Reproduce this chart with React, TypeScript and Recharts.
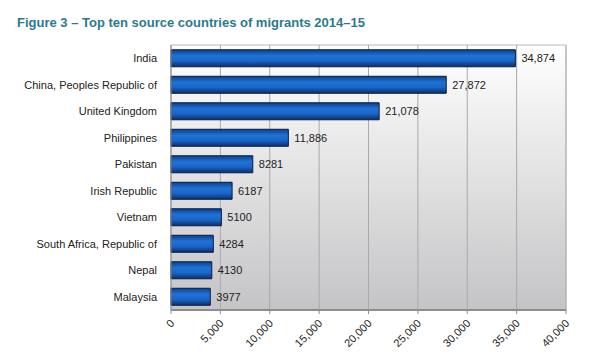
import React from 'react';
import {
  BarChart,
  Bar,
  XAxis,
  YAxis,
  CartesianGrid,
  LabelList,
  ReferenceArea,
} from 'recharts';

const countries = [
  'India',
  'China, Peoples Republic of',
  'United Kingdom',
  'Philippines',
  'Pakistan',
  'Irish Republic',
  'Vietnam',
  'South Africa, Republic of',
  'Nepal',
  'Malaysia',
];
const migrants = [34874, 27872, 21078, 11886, 8281, 6187, 5100, 4284, 4130, 3977];
const valueLabels = ['34,874', '27,872', '21,078', '11,886', '8281', '6187', '5100', '4284', '4130', '3977'];
const xTicks = [0, 5000, 10000, 15000, 20000, 25000, 30000, 35000, 40000];

const FONT = '"Liberation Sans", Arial, sans-serif';

const data = countries.map((name, i) => ({
  name,
  value: migrants[i],
  label: valueLabels[i],
}));

// rotated x tick, text ends at the tick
function SlantTick(props: any) {
  const { x, y, payload } = props;
  const text = payload.value === 0 ? '0' : payload.value.toLocaleString('en-US');
  return (
    <g transform={`translate(${x + 4},${y + 8})`}>
      <text
        transform="rotate(-45)"
        textAnchor="end"
        fontSize={11}
        fill="#222"
        fontFamily={FONT}
      >
        {text}
      </text>
    </g>
  );
}

// category label on one line (no wrapping)
function CountryTick(props: any) {
  const { x, y, payload } = props;
  return (
    <text
      x={x - 6}
      y={y}
      dy={4}
      textAnchor="end"
      fontSize={11}
      fill="#222"
      fontFamily={FONT}
    >
      {payload.value}
    </text>
  );
}

export default function App() {
  return (
    <div
      style={{
        position: 'absolute',
        left: 0,
        top: 0,
        width: 600,
        height: 360,
        background: '#fff',
        fontFamily: FONT,
      }}
    >
      <div
        style={{
          position: 'absolute',
          left: 17,
          top: 15,
          fontSize: 13,
          fontWeight: 'bold',
          color: '#2b7a8e',
        }}
      >
        Figure 3 – Top ten source countries of migrants 2014–15
      </div>
      <BarChart
        width={600}
        height={360}
        data={data}
        layout="vertical"
        margin={{ top: 45, right: 34, bottom: 0, left: 0 }}
        barCategoryGap="18%"
      >
        <defs>
          <linearGradient id="plotBg" x1="0" y1="0" x2="0" y2="1">
            <stop offset="0%" stopColor="#ffffff" />
            <stop offset="100%" stopColor="#c4c4c6" />
          </linearGradient>
          <linearGradient id="barFill" x1="0" y1="0" x2="0" y2="1">
            <stop offset="0%" stopColor="#0b3f8c" />
            <stop offset="35%" stopColor="#1f72d6" />
            <stop offset="65%" stopColor="#1a66c6" />
            <stop offset="100%" stopColor="#0a2f6e" />
          </linearGradient>
        </defs>
        <CartesianGrid
          horizontal={false}
          stroke="#a9a9ad"
          fill="url(#plotBg)"
          fillOpacity={1}
        />
        <ReferenceArea
          x1={0}
          x2={40000}
          fill="none"
          stroke="#b8b8bb"
          strokeWidth={1}
          ifOverflow="extendDomain"
        />
        <XAxis
          type="number"
          domain={[0, 40000]}
          ticks={xTicks}
          tick={<SlantTick />}
          axisLine={{ stroke: '#8c8c8f', strokeWidth: 2 }}
          tickLine={{ stroke: '#8c8c8f' }}
          tickSize={4}
          interval={0}
          height={50}
        />
        <YAxis
          type="category"
          dataKey="name"
          width={171}
          tick={<CountryTick />}
          axisLine={{ stroke: '#9a9a9d' }}
          tickLine={false}
        />
        <Bar
          dataKey="value"
          fill="url(#barFill)"
          stroke="#0a1c44"
          strokeWidth={1}
          isAnimationActive={false}
        >
          <LabelList
            dataKey="label"
            position="right"
            offset={6}
            style={{ fontSize: 11, fill: '#222', fontFamily: FONT }}
          />
        </Bar>
      </BarChart>
    </div>
  );
}
